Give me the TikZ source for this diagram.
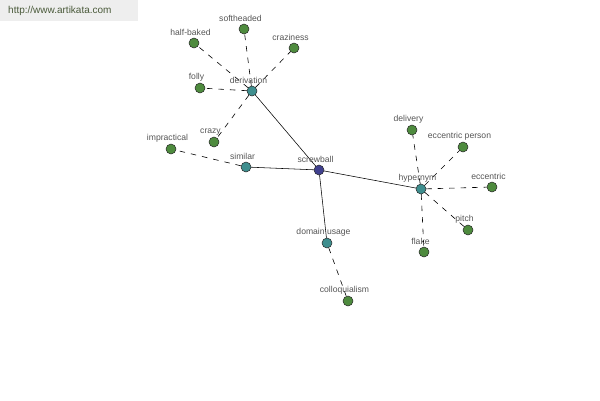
\documentclass[tikz,border=0pt]{standalone}
\usepackage{fontspec}
\setmainfont{Liberation Sans}
\usetikzlibrary{positioning}
\definecolor{akgreen}{HTML}{4E8B3E}
\definecolor{akteal}{HTML}{3E8E8E}
\definecolor{akblue}{HTML}{40408E}
\definecolor{akgrey}{HTML}{EEEEEE}
\definecolor{aktext}{HTML}{555555}
\definecolor{akmark}{HTML}{4A5A3A}

\begin{document}
\begin{tikzpicture}[
    x=1pt, y=-1pt,
    word/.style={
        circle,
        draw=black!85,
        line width=0.5pt,
        minimum size=10pt,
        inner sep=0pt,
        fill=akgreen
    },
    hub/.style={word, fill=akteal},
    root/.style={word, fill=akblue},
    lbl/.style={
        inner sep=0pt,
        xshift=-3.5pt,
        font=\fontsize{8.6}{9}\selectfont,
        text=aktext
    },
    link/.style={draw=black, line width=0.55pt},
    rel/.style={draw=black, line width=0.6pt, dash pattern=on 5.5pt off 6pt}
]
\useasboundingbox (0,0) rectangle (600,400);

\fill[akgrey] (0,0) rectangle (138,21);
\node[anchor=west, inner sep=0pt, font=\fontsize{10}{11}\selectfont, text=akmark] (site) at (8,11) {http://www.artikata.com};

% center and relation hubs
\node[root] (screwball) at (319,170) {};
\node[hub] (derivation) at (252,91) {};
\node[hub] (similar) at (246,167) {};
\node[hub] (hypernym) at (421,189) {};
\node[hub] (domain) at (327,243) {};

% leaves
\node[word] (softheaded) at (244,29) {};
\node[word] (halfbaked) at (194,43) {};
\node[word] (craziness) at (294,48) {};
\node[word] (folly) at (200,88) {};
\node[word] (crazy) at (214,142) {};
\node[word] (impractical) at (171,149) {};
\node[word] (delivery) at (412,130) {};
\node[word] (eccperson) at (463,147) {};
\node[word] (eccentric) at (492,187) {};
\node[word] (pitch) at (468,230) {};
\node[word] (flake) at (424,252) {};
\node[word] (colloq) at (348,301) {};

\foreach \a in {derivation,similar,hypernym,domain}
    \draw[link] (screwball) -- (\a);
\foreach \a/\b in {derivation/softheaded,derivation/halfbaked,derivation/craziness,
                   derivation/folly,derivation/crazy,similar/impractical,
                   hypernym/delivery,hypernym/eccperson,hypernym/eccentric,
                   hypernym/pitch,hypernym/flake,domain/colloq}
    \draw[rel] (\a) -- (\b);

\node[lbl, above=1.5pt of screwball] (tscrewball) {screwball};
\node[lbl, above=1.5pt of derivation] (tderivation) {derivation};
\node[lbl, above=1.5pt of similar] (tsimilar) {similar};
\node[lbl, above=1.5pt of hypernym] (thypernym) {hypernym};
\node[lbl, above=1.5pt of domain] (tdomain) {domain usage};
\node[lbl, above=1.5pt of softheaded] (tsoftheaded) {softheaded};
\node[lbl, above=1.5pt of halfbaked] (thalfbaked) {half-baked};
\node[lbl, above=1.5pt of craziness] (tcraziness) {craziness};
\node[lbl, above=1.5pt of folly] (tfolly) {folly};
\node[lbl, above=1.5pt of crazy] (tcrazy) {crazy};
\node[lbl, above=1.5pt of impractical] (timpractical) {impractical};
\node[lbl, above=1.5pt of delivery] (tdelivery) {delivery};
\node[lbl, above=1.5pt of eccperson] (teccperson) {eccentric person};
\node[lbl, above=1.5pt of eccentric] (teccentric) {eccentric};
\node[lbl, above=1.5pt of pitch] (tpitch) {pitch};
\node[lbl, above=1.5pt of flake] (tflake) {flake};
\node[lbl, above=1.5pt of colloq] (tcolloq) {colloquialism};

\end{tikzpicture}
\end{document}
